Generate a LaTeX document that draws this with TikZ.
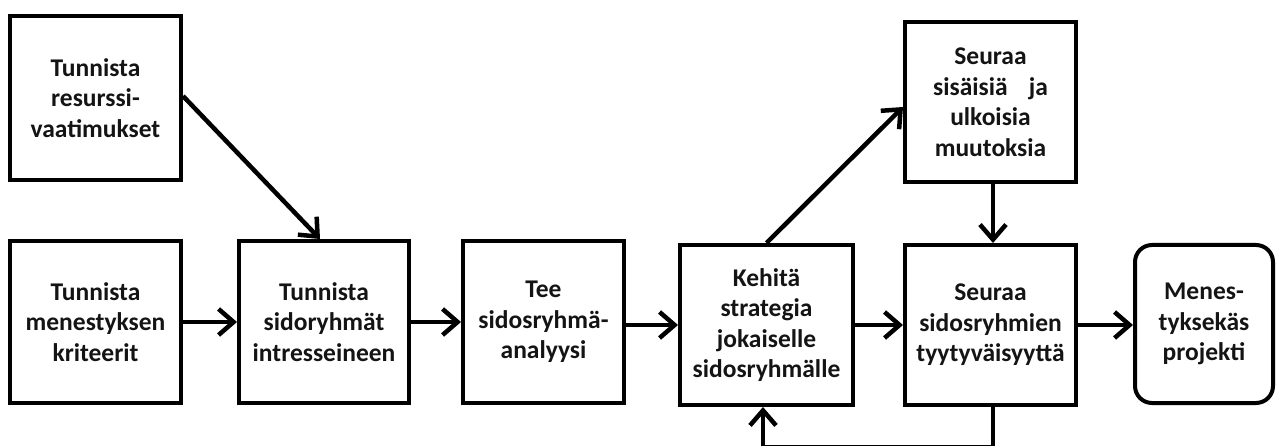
\documentclass[tikz,border=0pt]{standalone}
\usepackage{fontspec}
\setmainfont{Carlito}
\usetikzlibrary{arrows.meta}
\definecolor{ink}{HTML}{141414}
\tikzset{
  stepbox/.style={draw=black, line width=4pt, fill=white, text=ink,
    align=center, inner sep=0pt, font=\bfseries\fontsize{25.5}{30.5}\selectfont,
    minimum width=171pt, minimum height=162pt},
  goalbox/.style={stepbox, rounded corners=17pt, minimum width=138pt, minimum height=158pt},
  arr/.style={draw=black, line width=4.5pt, line join=miter,
    -{Straight Barb[length=15pt,width=26pt,line width=4.5pt]}},
}
\begin{document}
\begin{tikzpicture}[x=1pt,y=-1pt]
\useasboundingbox (0,0) rectangle (1277,446);

% process steps
\node[stepbox, minimum height=164pt] (res) at (95.5,98) {Tunnista\\resurssi-\\vaatimukset};
\node[stepbox] (kri) at (95.5,322) {Tunnista\\menestyksen\\kriteerit};
\node[stepbox, minimum width=170pt] (sid) at (324,322) {Tunnista\\sidoryhmät\\intresseineen};
\node[stepbox, minimum width=161pt] (ana) at (543.5,322) {Tee\\sidosryhmä-\\analyysi};
\node[stepbox, minimum width=173pt, minimum height=160pt] (str) at (766.5,325) {Kehitä\\strategia\\jokaiselle\\sidosryhmälle};
\node[stepbox, minimum height=160pt] (muu) at (990.5,102) {Seuraa\\sisäisiä\hspace{0.6em} ja\\ulkoisia\\muutoksia};
\node[stepbox, minimum height=160pt] (tyy) at (990.5,325) {Seuraa\\sidosryhmien\\tyytyväisyyttä};
\node[goalbox] (pro) at (1204,324) {Menes-\\tyksekäs\\projekti};

% return path along the bottom edge, mostly below the page
\coordinate (fb) at (0,447.5);

% connectors
\draw[arr] ([yshift=2pt]res.east) -- ([xshift=-4pt]sid.north);
\draw[arr] (kri.east) -- (sid.west);
\draw[arr] (sid.east) -- (ana.west);
\draw[arr] (ana.east |- str.west) -- (str.west);
\draw[arr] (str.north) -- ([yshift=-5pt]muu.west);
\draw[arr] (str.east |- tyy.west) -- (tyy.west);
\draw[arr] ([xshift=2.5pt]muu.south) -- ([xshift=2.5pt]tyy.north);
\draw[arr] (tyy.east) -- (tyy.east -| pro.west);
\draw[arr] ([xshift=2.5pt]tyy.south) -- ([xshift=2.5pt]tyy.south |- fb) -| ([xshift=-3.5pt]str.south);
\end{tikzpicture}
\end{document}
